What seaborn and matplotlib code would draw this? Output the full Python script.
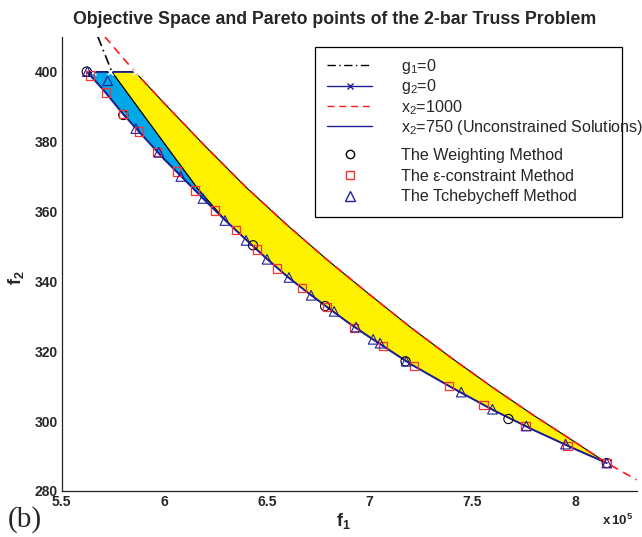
import numpy as np
import pandas as pd
import matplotlib
matplotlib.use("Agg")
import matplotlib.pyplot as plt
from matplotlib.lines import Line2D
from matplotlib.patches import Rectangle
import seaborn as sns

sns.set_style("white")
plt.rcParams['font.family'] = ['Liberation Sans', 'DejaVu Sans']
plt.rcParams['mathtext.fontset'] = 'custom'
plt.rcParams['mathtext.rm'] = 'Liberation Sans'
plt.rcParams['mathtext.it'] = 'Liberation Sans'
plt.rcParams['mathtext.bf'] = 'Liberation Sans:bold'

# ---------------- data (f1 in units of 1e5) ----------------
# x2 = 1000 boundary (red dashed)
x1000_f1 = [5.71, 5.856, 6.0, 6.2, 6.4, 6.6, 6.8, 7.0, 7.2, 7.4, 7.6, 7.8, 8.0, 8.155, 8.3]
x1000_f2 = [410, 400, 390.9, 378.6, 366.8, 356.0, 345.8, 336.2, 326.8, 318.0, 309.6, 301.6, 294.0, 288.0, 283.2]

# x2 = 750 (unconstrained solutions / Pareto front)
x750_f1 = [5.622, 5.70, 5.80, 5.90, 6.00, 6.10, 6.20, 6.30, 6.40, 6.50, 6.60, 6.70, 6.80,
           6.90, 7.00, 7.20, 7.40, 7.60, 7.80, 8.00, 8.155]
x750_f2 = [400, 395.0, 387.8, 381.3, 374.9, 369.0, 363.0, 357.3, 351.8, 346.4, 341.3, 336.7,
           332.3, 328.0, 324.0, 316.3, 309.6, 303.2, 297.4, 292.0, 288.0]

# g1 = 0 constraint boundary
g1_f1 = [5.676, 5.744, 5.85, 5.95, 6.05, 6.163, 6.30]
g1_f2 = [410, 400, 391.5, 383.5, 375.5, 366.5, 357.3]

# g2 = 0 constraint boundary
g2_f1 = [5.622, 5.651, 5.734, 5.856]
g2_f2 = [400, 400, 400, 400]

# Pareto points
weight_f1 = [5.622, 5.80, 6.432, 6.783, 7.175, 7.676, 8.155]
weight_f2 = [400, 387.6, 350.3, 332.9, 317.1, 300.6, 288.0]

eps_f1 = [5.637, 5.715, 5.80, 5.876, 5.963, 6.061, 6.149, 6.246, 6.349, 6.451, 6.549, 6.671,
          6.793, 6.924, 7.066, 7.217, 7.388, 7.554, 7.759, 7.963, 8.155]
eps_f2 = [398.9, 394.0, 387.8, 382.9, 377.0, 371.4, 366.0, 360.3, 354.6, 349.1, 343.7, 338.0,
          332.6, 326.6, 321.4, 315.7, 310.0, 304.6, 298.6, 292.9, 288.0]

tche_f1 = [5.625, 5.724, 5.861, 5.973, 6.080, 6.188, 6.295, 6.398, 6.500, 6.607, 6.715, 6.827,
           6.934, 7.017, 7.051, 7.178, 7.446, 7.598, 7.763, 7.954, 8.155]
tche_f2 = [400, 397.4, 383.7, 376.9, 370.0, 363.7, 357.4, 351.7, 346.3, 341.1, 336.0, 331.4,
           326.9, 323.4, 322.3, 317.1, 308.3, 303.4, 298.6, 293.4, 288.0]

xticks = [5.5, 6, 6.5, 7, 7.5, 8]
yticks = [280, 300, 320, 340, 360, 380, 400]

# ---------------- figure ----------------
fig = plt.figure(figsize=(6.42, 5.37), dpi=100)
ax = fig.add_axes([0.0961, 0.0857, 0.8954, 0.846])

blue_fill = '#00A8E8'
yellow_fill = '#FFF200'
navy = '#1E1E96'
red = '#FF1A1A'

a1000x, a1000y = np.array(x1000_f1), np.array(x1000_f2)
a750x, a750y = np.array(x750_f1), np.array(x750_f2)
g1x, g1y = np.array(g1_f1), np.array(g1_f2)
merge = g1x[-1]

# blue region: between Pareto front and g1 = 0
m750 = a750x <= merge
mg1 = g1y <= 400
bx = np.concatenate([g1x[mg1], a750x[m750][::-1]])
by = np.concatenate([g1y[mg1], a750y[m750][::-1]])
ax.fill(bx, by, facecolor=blue_fill, edgecolor='black', linewidth=0.8, zorder=1)

# yellow region: between g1 / Pareto front and x2 = 1000
mr = (a1000y <= 400) & (a1000x <= a750x[-1])
m750b = a750x >= merge
yx = np.concatenate([a1000x[mr], a750x[m750b][::-1], g1x[mg1][::-1]])
yy = np.concatenate([a1000y[mr], a750y[m750b][::-1], g1y[mg1][::-1]])
ax.fill(yx, yy, facecolor=yellow_fill, edgecolor='black', linewidth=0.8, zorder=1)

# lines
sns.lineplot(x=x750_f1, y=x750_f2, sort=False, estimator=None, color=navy, linewidth=1.4, ax=ax, zorder=3)
sns.lineplot(x=x1000_f1, y=x1000_f2, sort=False, estimator=None, color=red, linewidth=1.2,
             ax=ax, zorder=4, linestyle=(0, (5, 3.5)))
sns.lineplot(x=g1_f1[:2], y=g1_f2[:2], sort=False, estimator=None, color='black', linewidth=1.2,
             ax=ax, zorder=4, linestyle=(0, (6, 2.5, 1, 2.5)))
sns.lineplot(x=g2_f1, y=g2_f2, sort=False, estimator=None, color=navy, linewidth=1.2, ax=ax,
             marker='x', markersize=5, markeredgewidth=1.0, markevery=[1, 2, 3], zorder=4)

# markers
ax.scatter(weight_f1, weight_f2, marker='o', s=44, facecolors='none', edgecolors='black', linewidths=0.8, zorder=5)
ax.scatter(eps_f1, eps_f2, marker='s', s=36, facecolors='none', edgecolors='#FF3030', linewidths=0.9, zorder=5)
ax.scatter(tche_f1, tche_f2, marker='^', s=48, facecolors='none', edgecolors='#2020A0', linewidths=0.8, zorder=5)

ax.set_xlim(5.5, 8.3)
ax.set_ylim(280, 410)
ax.set_xticks(xticks)
ax.set_xticklabels(['5.5', '6', '6.5', '7', '7.5', '8'])
ax.set_yticks(yticks)
ax.set_yticklabels([str(t) for t in yticks])
ax.tick_params(direction='in', length=4, width=0.8, color='#333333', labelsize=10, pad=3)
for lab in ax.get_xticklabels() + ax.get_yticklabels():
    lab.set_fontweight('bold')
for s in ['top', 'right']:
    ax.spines[s].set_visible(False)
for s in ['left', 'bottom']:
    ax.spines[s].set_color('#222222')
    ax.spines[s].set_linewidth(0.9)

ax.set_title('Objective Space and Pareto points of the 2-bar Truss Problem',
             fontsize=12.8, fontweight='bold', pad=9, x=0.4746)
ax.set_xlabel(r'$\mathbf{f_1}$', fontsize=13)
ax.xaxis.set_label_coords(0.49, -0.045)
ax.set_ylabel(r'$\mathbf{f_2}$', fontsize=13)
ax.yaxis.set_label_coords(-0.062, 0.47)
fig.text(0.962, 0.016, r'$\mathbf{x\,10^5}$', fontsize=9.5, ha='center', va='bottom')
fig.text(0.012, 0.008, '(b)', fontsize=21, family='Liberation Serif', ha='left', va='bottom')

# legend frame (long label overflows the frame as in the original)
fig.patches.append(Rectangle((315 / 642, 1 - 217 / 537), 307 / 642, 170 / 537, transform=fig.transFigure,
                             facecolor='white', edgecolor='black', linewidth=0.9, zorder=5))

line_handles = [
    Line2D([], [], color='black', linewidth=1.0, linestyle=(0, (6, 2.5, 1, 2.5))),
    Line2D([], [], color=navy, linewidth=1.0, marker='x', markersize=5),
    Line2D([], [], color=red, linewidth=1.0, linestyle=(0, (5, 3.5))),
    Line2D([], [], color=navy, linewidth=1.0),
]
line_labels = [r'$\mathregular{g_1}$=0', r'$\mathregular{g_2}$=0', r'$\mathregular{x_2}$=1000',
               r'$\mathregular{x_2}$=750 (Unconstrained Solutions)']
mark_handles = [
    Line2D([], [], linestyle='none', marker='o', markersize=6, markerfacecolor='none', markeredgecolor='black'),
    Line2D([], [], linestyle='none', marker='s', markersize=5.5, markerfacecolor='none', markeredgecolor='#FF3030'),
    Line2D([], [], linestyle='none', marker='^', markersize=6.5, markerfacecolor='none', markeredgecolor='#2020A0'),
]
mark_labels = ['The Weighting Method', 'The ε-constraint Method', 'The Tchebycheff Method']

fs = 11.6
common = dict(loc='upper left', fontsize=fs, frameon=False, handlelength=45 / (fs * 100 / 72),
              handletextpad=29 / (fs * 100 / 72), borderpad=0, borderaxespad=0,
              bbox_transform=fig.transFigure)
leg1 = fig.legend(line_handles, line_labels, bbox_to_anchor=(327 / 642, 1 - 57 / 537),
                  labelspacing=0.09, **common)
leg2 = fig.legend(mark_handles, mark_labels, bbox_to_anchor=(327 / 642, 1 - 148 / 537),
                  labelspacing=0.35, **common)
leg1.set_zorder(6)
leg2.set_zorder(6)

fig.savefig('out.png', dpi=100)
